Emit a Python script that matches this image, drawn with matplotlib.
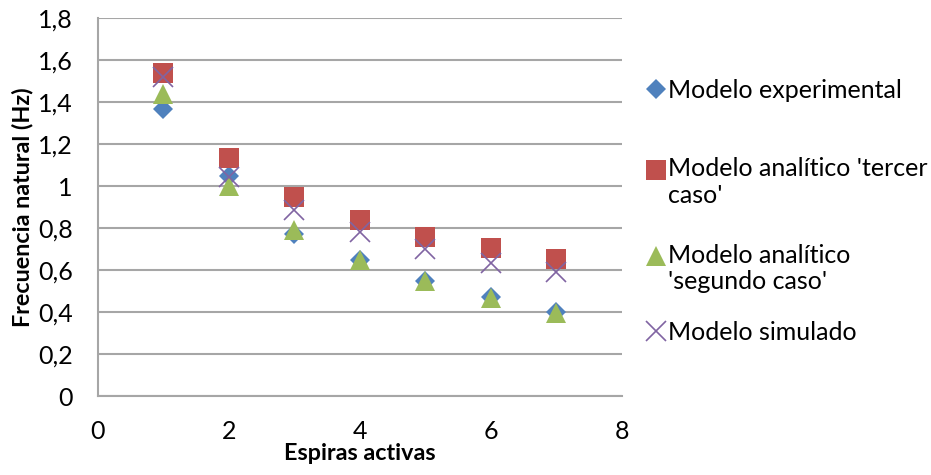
import matplotlib
matplotlib.use("Agg")
import numpy as np
import matplotlib.pyplot as plt
from matplotlib.lines import Line2D
from matplotlib.legend_handler import HandlerLine2D
from matplotlib.ticker import FuncFormatter

plt.rcParams['font.family'] = ['Lato', 'DejaVu Sans']

# data
espiras = [1, 2, 3, 4, 5, 6, 7]
experimental = [1.37, 1.05, 0.77, 0.65, 0.55, 0.47, 0.40]
tercer_caso = [1.54, 1.135, 0.95, 0.84, 0.76, 0.705, 0.655]
segundo_caso = [1.44, 1.00, 0.79, 0.65, 0.55, 0.465, 0.395]
simulado = [1.52, 1.045, 0.885, 0.78, 0.70, 0.635, 0.59]

labels = ["Modelo experimental",
          "Modelo analítico 'tercer\ncaso'",
          "Modelo analítico\n'segundo caso'",
          "Modelo simulado"]

C_BLUE = '#4F81BD'
C_RED = '#C0504D'
C_GREEN = '#9BBB59'
C_PURPLE = '#8064A2'
GRID = '#A6A6A6'
FS = 18
FS_LAB = 16.8


class FirstLineHandler(HandlerLine2D):
    # Excel puts the marker next to the first line of a wrapped label
    def __init__(self, dy=0, **kw):
        super().__init__(**kw)
        self.dy = dy

    def create_artists(self, legend, orig_handle, xdescent, ydescent,
                       width, height, fontsize, trans):
        arts = super().create_artists(legend, orig_handle, xdescent, ydescent,
                                      width, height, fontsize, trans)
        for a in arts:
            a.set_ydata(np.asarray(a.get_ydata()) + self.dy)
        return arts


fig = plt.figure(figsize=(9.31, 4.75), dpi=100)
W, H = 931, 475
ax = fig.add_axes([97.7 / W, 1 - 396 / H, (622 - 97.7) / W, (396 - 18.3) / H])

ax.plot(espiras, experimental, linestyle='none', marker='D', ms=10.2,
        color=C_BLUE, mew=0, zorder=3)
ax.plot(espiras, tercer_caso, linestyle='none', marker='s', ms=14.4,
        color=C_RED, mew=0, zorder=3)
ax.plot(espiras, segundo_caso, linestyle='none', marker='^', ms=14.4,
        color=C_GREEN, mew=0, zorder=4)
ax.plot(espiras, simulado, linestyle='none', marker='x', ms=14.4,
        color=C_PURPLE, mew=1.2, zorder=5)

ax.set_xlim(0, 8)
ax.set_ylim(0, 1.8)
ax.set_xticks(range(0, 9, 2))
ax.set_yticks([i * 0.2 for i in range(10)])
fmt = FuncFormatter(lambda v, p: ('%g' % round(v, 1)).replace('.', ','))
ax.xaxis.set_major_formatter(fmt)
ax.yaxis.set_major_formatter(fmt)
ax.tick_params(length=0, labelsize=FS)
ax.tick_params(axis='y', pad=18)
ax.tick_params(axis='x', pad=17)

ax.grid(axis='y', color=GRID, linewidth=1.5)
ax.set_axisbelow(True)
for s in ['top', 'right']:
    ax.spines[s].set_visible(False)
for s in ['left', 'bottom']:
    ax.spines[s].set_color(GRID)
    ax.spines[s].set_linewidth(1.5)

ax.set_xlabel("Espiras activas", fontsize=FS_LAB, fontweight='bold', labelpad=0)
ax.set_ylabel("Frecuencia natural (Hz)", fontsize=FS_LAB, fontweight='bold', labelpad=3)

handles = [
    Line2D([], [], linestyle='none', marker='D', ms=10.2, color=C_BLUE, mew=0),
    Line2D([], [], linestyle='none', marker='s', ms=14.4, color=C_RED, mew=0),
    Line2D([], [], linestyle='none', marker='^', ms=14.4, color=C_GREEN, mew=0),
    Line2D([], [], linestyle='none', marker='x', ms=14.4, color=C_PURPLE, mew=1.2),
]
ypos = [90, 182, 268.5, 332]
for h, lab, yp in zip(handles, labels, ypos):
    dy = 9.4 if '\n' in lab else 0
    fig.legend([h], [lab], loc='center left',
               bbox_to_anchor=(643 / W, 1 - yp / H),
               frameon=False, fontsize=FS, handlelength=1.0,
               handletextpad=0.0, borderpad=0, borderaxespad=0,
               handler_map={Line2D: FirstLineHandler(dy=dy)})

fig.savefig("out.png", dpi=100)
